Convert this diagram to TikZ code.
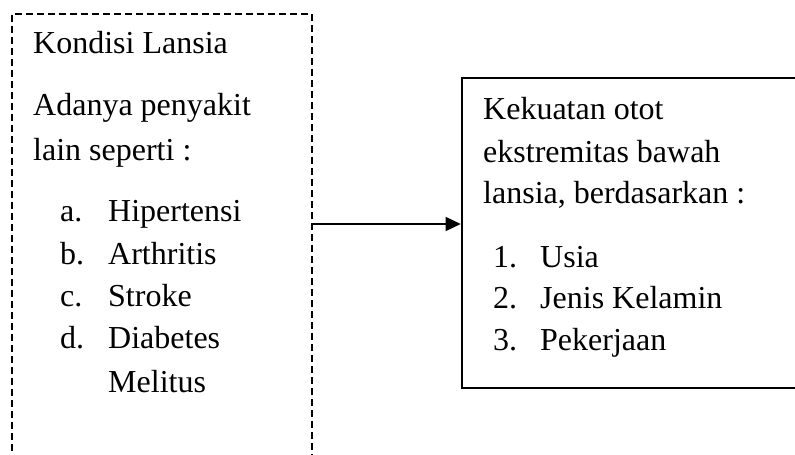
\documentclass[tikz,border=0pt]{standalone}
\usepackage{fontspec}
\setmainfont{Liberation Serif}
\usetikzlibrary{arrows.meta}
\begin{document}
\begin{tikzpicture}[x=1pt,y=1pt,
  txt/.style={anchor=base west,inner sep=0pt,font=\fontsize{32}{38}\selectfont},
  dashbox/.style={draw,line width=2.4pt,dash pattern=on 7pt off 4pt,minimum width=300pt,minimum height=466pt,inner sep=0pt},
  solidbox/.style={draw,line width=2.6pt,minimum width=358pt,minimum height=310pt,inner sep=0pt},
  conn/.style={line width=1.5pt,-{Triangle[length=15pt,width=14pt]}}]
\useasboundingbox (0,0) rectangle (795,-455);
\clip (0,0) rectangle (795,-455);
\node[dashbox] (lbox) at (162,-247) {};
\node[solidbox] (rbox) at (641,-233) {};
\coordinate (ay) at (0,-224);
\draw[conn] (lbox.east |- ay) -- (rbox.west |- ay);
% left text
\node[txt] (l1) at (33,-53) {Kondisi Lansia};
\node[txt] (l2) at (33,-115) {Adanya penyakit};
\node[txt] (l3) at (33,-160) {lain seperti :};
\node[txt] (la) at (60,-221) {a.};
\node[txt] (lat) at (108,-221) {Hipertensi};
\node[txt] (lb) at (60,-264) {b.};
\node[txt] (lbt) at (108,-264) {Arthritis};
\node[txt] (lc) at (60,-306) {c.};
\node[txt] (lct) at (108,-306) {Stroke};
\node[txt] (ld) at (60,-348) {d.};
\node[txt] (ldt) at (108,-348) {Diabetes};
\node[txt] (ldt2) at (108,-392) {Melitus};
% right text
\node[txt] (r1) at (483,-119) {Kekuatan otot};
\node[txt] (r2) at (483,-162) {ekstremitas bawah};
\node[txt] (r3) at (483,-203) {lansia, berdasarkan :};
\node[txt] (r4) at (493,-267) {1.};
\node[txt] (r4t) at (540,-267) {Usia};
\node[txt] (r5) at (493,-308) {2.};
\node[txt] (r5t) at (540,-308) {Jenis Kelamin};
\node[txt] (r6) at (493,-350) {3.};
\node[txt] (r6t) at (540,-350) {Pekerjaan};
\end{tikzpicture}
\end{document}
